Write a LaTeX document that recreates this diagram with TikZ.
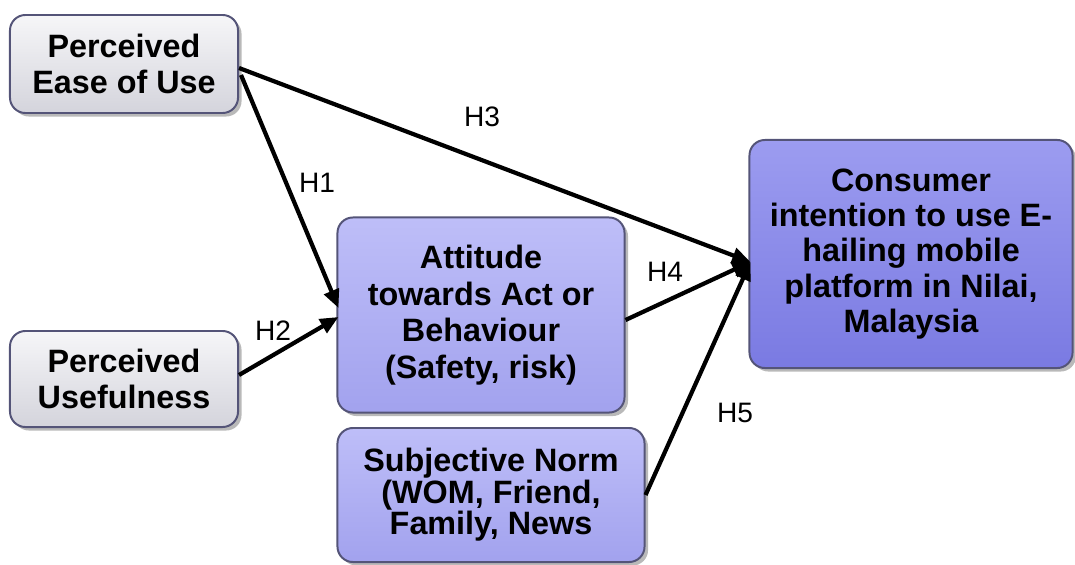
\documentclass[tikz,border=0pt]{standalone}
\usepackage{fontspec}
\setmainfont{Liberation Sans}
\usetikzlibrary{arrows.meta,shadows,calc}
\definecolor{boxline}{RGB}{84,84,120}
\definecolor{grayhi}{RGB}{246,246,248}
\definecolor{graylo}{RGB}{212,212,220}
\definecolor{lilachi}{RGB}{190,190,248}
\definecolor{lilaclo}{RGB}{162,162,238}
\definecolor{violethi}{RGB}{156,156,240}
\definecolor{violetlo}{RGB}{122,122,226}
\begin{document}
\begin{tikzpicture}[x=0.025cm, y=-0.025cm,
        box/.style={draw=boxline, line width=1.4pt, rounded corners=11pt, align=center,
            inner sep=2pt, font=\fontsize{23}{26}\selectfont\bfseries,
            drop shadow={shadow xshift=2.5pt, shadow yshift=-2.5pt, opacity=0.55}},
        factor/.style={box, top color=grayhi, bottom color=graylo},
        mediator/.style={box, top color=lilachi, bottom color=lilaclo},
        outcome/.style={box, top color=violethi, bottom color=violetlo},
        hyp label/.style={font=\fontsize{20}{24}\selectfont, anchor=center},
        path edge/.style={draw, line width=3pt, -{Triangle[length=13pt, width=11pt]}}
    ]
	\useasboundingbox (0,0) rectangle (1075,564);
	\node[factor, minimum width=5.7cm, minimum height=2.45cm] (peou) at (124,64) {Perceived\\Ease of Use};
	\node[factor, minimum width=5.7cm, minimum height=2.4cm] (pu) at (124,379) {Perceived\\Usefulness};
	\node[mediator, minimum width=7.175cm, minimum height=4.875cm] (att) at (481,315) {Attitude\\towards Act or\\Behaviour\\(Safety, risk)};
	\node[mediator, minimum width=7.675cm, minimum height=3.35cm, font=\fontsize{23}{19}\selectfont\bfseries] (sn) at (491,495) {Subjective Norm\\(WOM, Friend,\\Family, News};
	\node[outcome, minimum width=8.075cm, minimum height=5.7cm, font=\fontsize{23}{25}\selectfont\bfseries] (ci) at (911,254) {Consumer\\intention to use E-\\hailing mobile\\platform in Nilai,\\Malaysia};
	\coordinate (ci_in) at ($(ci.west)+(2,8)$);
	\coordinate (att_in) at ($(att.west)+(2,-7)$);
	\draw[path edge] ($(peou.east)+(0,4)$) -- (ci_in);
	\draw[path edge] ($(peou.east)+(2,11)$) -- (att_in);
	\draw[path edge] ($(pu.east)+(0,-4)$) -- ($(att.west)+(2,2)$);
	\draw[path edge] ($(att.east)+(0,5)$) -- (ci_in);
	\draw[path edge] ($(sn.east)+(0,0)$) -- (ci_in);
	\node[hyp label] (h1) at (317,183) {H1};
	\node[hyp label] (h2) at (273,331) {H2};
	\node[hyp label] (h3) at (482,117) {H3};
	\node[hyp label] (h4) at (665,272) {H4};
	\node[hyp label] (h5) at (735,413) {H5};
\end{tikzpicture}
\end{document}
